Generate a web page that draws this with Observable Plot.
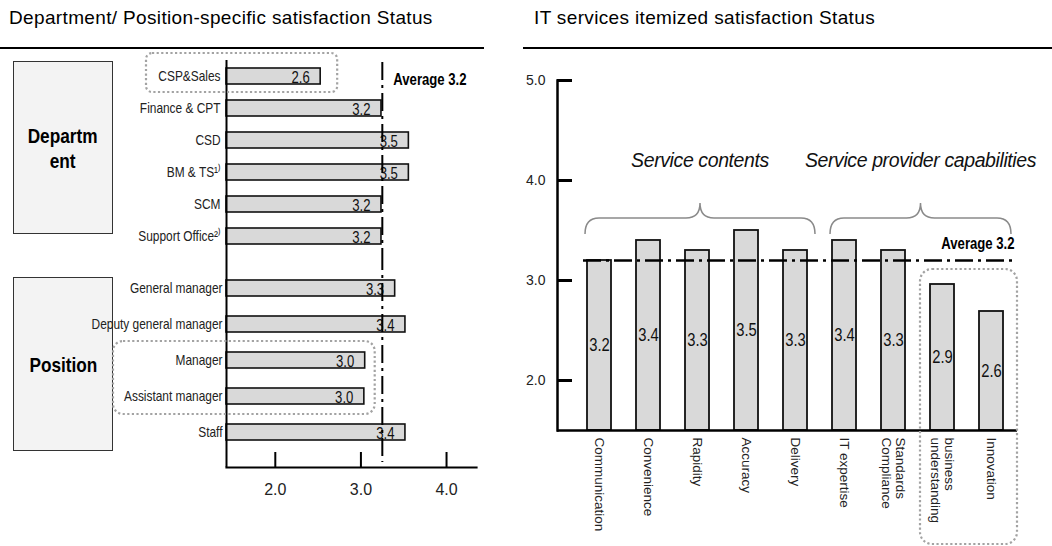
<!DOCTYPE html>
<html><head><meta charset="utf-8">
<script src="https://cdn.jsdelivr.net/npm/d3@7"></script>
<script src="https://cdn.jsdelivr.net/npm/@observablehq/plot@0.6"></script>
<style>
html,body{margin:0;padding:0;background:#fff;}
#root{position:relative;width:1052px;height:546px;overflow:hidden;font-family:"Liberation Sans",Arial,sans-serif;color:#000;}
.abs{position:absolute;}
.title{font-size:19px;letter-spacing:0.35px;white-space:nowrap;line-height:1;}
.rule{height:2px;background:#000;}
.sidebox{border:1px solid #333;background:#f3f3f3;display:flex;align-items:center;justify-content:center;text-align:center;font-weight:bold;font-size:21px;line-height:25px;box-sizing:border-box;}
.sidebox .line{display:block;transform:scaleX(0.82);white-space:nowrap;}
</style></head><body>
<div id="root">
  <div class="abs title" style="left:9px;top:8px">Department/ Position-specific satisfaction Status</div>
  <div class="abs rule" style="left:0;top:47px;width:484px"></div>
  <div class="abs title" style="left:534px;top:8px">IT services itemized satisfaction Status</div>
  <div class="abs rule" style="left:523px;top:47px;width:529px"></div>
  <div class="abs sidebox" id="boxDept" style="left:13px;top:61px;width:100px;height:173px"></div>
  <div class="abs sidebox" id="boxPos" style="left:13px;top:277px;width:100px;height:174px"></div>
  <div id="lt" class="abs" style="left:0;top:52px"></div>
  <div id="lb" class="abs" style="left:0;top:252px"></div>
  <div id="rc" class="abs" style="left:510px;top:60px"></div>
</div>
<script>
// ---------- data ----------
const groupBoxLabels = ["Departm\nent", "Position"];
const deptNames = ["CSP&Sales", "Finance & CPT", "CSD", "BM & TS¹⁾", "SCM", "Support Office²⁾"];
const deptValues = [2.53, 3.24, 3.56, 3.56, 3.24, 3.24];
const deptLabels = ["2.6", "3.2", "3.5", "3.5", "3.2", "3.2"];
const posNames = ["General manager", "Deputy general manager", "Manager", "Assistant manager", "Staff"];
const posValues = [3.40, 3.52, 3.05, 3.04, 3.52];
const posLabels = ["3.3", "3.4", "3.0", "3.0", "3.4"];
const leftAverage = 3.25;
const leftAverageLabel = "Average 3.2";
const leftTicks = [2, 3, 4];
const leftXDomain = [1.43, 4.35];

const itItems = ["Communication", "Convenience", "Rapidity", "Accuracy", "Delivery", "IT expertise", "Standards\nCompliance", "business\nunderstanding", "Innovation"];
const itValues = [3.2, 3.4, 3.3, 3.5, 3.3, 3.4, 3.3, 2.96, 2.69];
const itLabels = ["3.2", "3.4", "3.3", "3.5", "3.3", "3.4", "3.3", "2.9", "2.6"];
const itAverage = 3.2;
const itAverageLabel = "Average 3.2";
const itTicks = [2, 3, 4, 5];
const itYDomain = [1.5, 5.0];
const itGroupLabels = ["Service contents", "Service provider capabilities"];
const itGroupFrom = ["Communication", "IT expertise"];
const itGroupTo = ["Delivery", "Innovation"];
const itHighlighted = ["business\nunderstanding", "Innovation"];
const leftHighlightedDept = ["CSP&Sales"];
const leftHighlightedPos = ["Manager", "Assistant manager"];

// ---------- style ----------
const FONT = '"Liberation Sans", Arial, sans-serif';
const NARROW = 0.82;  // horizontal squeeze emulating a narrow face
const barFill = "#d9d9d9";
const barStroke = "#111";
const dashDot = "18,5,3,5";
const dotStroke = "#a3a3a3";
const dotDash = "2.2,2.4";
const braceTip = 3.46, braceBar = 3.62, bracePeak = 3.77, groupLabelLevel = 4.2;

function boxHTML(s) { return "<div>" + s.split("\n").map(t => `<span class="line">${t}</span>`).join("") + "</div>"; }
document.getElementById("boxDept").innerHTML = boxHTML(groupBoxLabels[0]);
document.getElementById("boxPos").innerHTML = boxHTML(groupBoxLabels[1]);

const deptRows = deptNames.map((name, i) => ({name, value: deptValues[i], label: deptLabels[i]}));
const posRows = posNames.map((name, i) => ({name, value: posValues[i], label: posLabels[i]}));
const itRows = itItems.map((name, i) => ({name, value: itValues[i], label: itLabels[i]}));

const baseStyle = {fontFamily: FONT, fontSize: "12px", color: "#222", overflow: "visible", background: "none"};

function dottedRect(g, x, y, w, h, r) {
  g.append("rect").attr("x", x).attr("y", y).attr("width", w).attr("height", h)
    .attr("rx", r).attr("ry", r).attr("fill", "none").attr("stroke", dotStroke)
    .attr("stroke-width", 2.2).attr("stroke-dasharray", dotDash);
}
function squeeze(svg, selector) {
  svg.querySelectorAll(selector).forEach(t => {
    const w = t.getComputedTextLength();
    if (w > 0) { t.setAttribute("textLength", w * NARROW); t.setAttribute("lengthAdjust", "spacingAndGlyphs"); }
  });
}
const LEFT_NARROW = '[aria-label="text"] text, [aria-label="y-axis tick label"] text';
const RIGHT_NARROW = '[aria-label="text"] text';

// ---------- left top (departments) ----------
const lt = Plot.plot({
  width: 500, height: 200, marginLeft: 226, marginRight: 24, marginTop: 8, marginBottom: 0,
  style: baseStyle,
  x: {domain: leftXDomain, axis: null, label: null},
  y: {domain: deptNames, paddingInner: 0.5, paddingOuter: 0.25, label: null},
  marks: [
    Plot.barX(deptRows, {x1: leftXDomain[0], x2: "value", y: "name", fill: barFill, stroke: barStroke, strokeWidth: 1.6}),
    Plot.text(deptRows, {x: "value", y: "name", text: "label", textAnchor: "end", dx: -11, dy: 1, fontSize: 16, fill: "#111"}),
    Plot.ruleX([leftXDomain[0]], {stroke: "#000", strokeWidth: 2}),
    Plot.ruleX([leftAverage], {stroke: "#000", strokeWidth: 2, strokeDasharray: dashDot, insetTop: 2}),
    Plot.text([leftAverageLabel], {x: () => leftAverage, y: () => deptNames[0], text: d => d, textAnchor: "start", dx: 11, dy: 3, fontWeight: "bold", fontSize: 16, fill: "#000"}),
    Plot.axisY({tickSize: 0, tickPadding: 6, fontSize: 14.5, fill: "#222"}),
    (index, scales, values, dim) => {
      const g = d3.create("svg:g");
      const bw = scales.y.bandwidth ? scales.y.bandwidth() : 16;
      const y0 = scales.y(leftHighlightedDept[0]);
      const i = deptNames.indexOf(leftHighlightedDept[0]);
      const x1 = dim.marginLeft - 80, x2 = scales.x(deptValues[i]) + 17;
      dottedRect(g, x1, y0 - 15, x2 - x1, bw + 23, 6);
      return g.node();
    }
  ]
});
document.getElementById("lt").appendChild(lt);
squeeze(lt, LEFT_NARROW);

// ---------- left bottom (positions) ----------
const lbH = 258, lbMB = 43;
const lb = Plot.plot({
  width: 500, height: lbH, marginLeft: 226, marginRight: 24, marginTop: 0, marginBottom: lbMB,
  style: baseStyle,
  x: {domain: leftXDomain, label: null},
  y: {domain: posNames, paddingInner: 0.56, paddingOuter: 0.745, label: null},
  marks: [
    Plot.barX(posRows, {x1: leftXDomain[0], x2: "value", y: "name", fill: barFill, stroke: barStroke, strokeWidth: 1.6}),
    Plot.text(posRows, {x: "value", y: "name", text: "label", textAnchor: "end", dx: -11, dy: 1, fontSize: 16, fill: "#111"}),
    Plot.ruleX([leftXDomain[0]], {stroke: "#000", strokeWidth: 2}),
    Plot.ruleX([leftAverage], {stroke: "#000", strokeWidth: 2, strokeDasharray: dashDot, insetBottom: 5}),
    Plot.ruleX(leftTicks, {stroke: "#000", strokeWidth: 2, insetTop: lbH - lbMB - 15}),
    Plot.frame({anchor: "bottom", stroke: "#000", strokeWidth: 2.2}),
    Plot.axisX({ticks: leftTicks, tickSize: 0, tickPadding: 16, tickFormat: d => d.toFixed(1), fontSize: 16, fill: "#222"}),
    Plot.axisY({tickSize: 0, tickPadding: 4, fontSize: 14.5, fill: "#222"}),
    (index, scales, values, dim) => {
      const g = d3.create("svg:g");
      const bw = scales.y.bandwidth ? scales.y.bandwidth() : 16;
      const ya = scales.y(leftHighlightedPos[0]);
      const yb = scales.y(leftHighlightedPos[1]) + bw;
      const maxV = d3.max(leftHighlightedPos, n => posValues[posNames.indexOf(n)]);
      const x1 = dim.marginLeft - 113, x2 = scales.x(maxV) + 10;
      dottedRect(g, x1, ya - 11, x2 - x1, yb - ya + 21, 10);
      return g.node();
    }
  ]
});
document.getElementById("lb").appendChild(lb);
squeeze(lb, LEFT_NARROW);

// ---------- right (IT services) ----------
const rW = 542, rH = 486, rML = 47, rMR = 35, rMT = 20, rMB = 116;
const rc = Plot.plot({
  width: rW, height: rH, marginLeft: rML, marginRight: rMR, marginTop: rMT, marginBottom: rMB,
  style: baseStyle,
  x: {domain: itItems, paddingInner: 0.52, paddingOuter: 0.39, align: 0.67, label: null},
  y: {domain: itYDomain, label: null},
  marks: [
    Plot.barY(itRows, {x: "name", y1: itYDomain[0], y2: "value", fill: barFill, stroke: barStroke, strokeWidth: 1.8}),
    Plot.text(itRows, {x: "name", y: d => (d.value + itYDomain[0]) / 2, text: "label", fontSize: 18, fill: "#111"}),
    Plot.ruleY([itAverage], {stroke: "#000", strokeWidth: 2.5, strokeDasharray: dashDot, insetLeft: 26, insetRight: 5}),
    Plot.text([itAverageLabel], {y: () => itAverage, text: d => d, frameAnchor: "right", textAnchor: "end", dx: -3, dy: -17, fontWeight: "bold", fontSize: 16, fill: "#000"}),
    Plot.ruleY(itTicks, {stroke: "#000", strokeWidth: 3, insetRight: rW - rML - rMR - 15}),
    Plot.ruleY([itYDomain[0]], {stroke: "#000", strokeWidth: 2.5}),
    Plot.frame({anchor: "left", stroke: "#000", strokeWidth: 2.5}),
    Plot.axisY({ticks: itTicks, tickSize: 0, tickPadding: 12, tickFormat: d => d.toFixed(1), fontSize: 14, fill: "#222"}),
    Plot.axisX({tickSize: 0, tickRotate: 90, tickPadding: 7, fontSize: 13.5, fill: "#222", style: "letter-spacing:0.6px"}),
    (index, scales, values, dim) => {
      const g = d3.create("svg:g");
      const x = scales.x, y = scales.y;
      const bw = x.bandwidth ? x.bandwidth() : 24;
      itGroupLabels.forEach((lab, i) => {
        const x1 = x(itGroupFrom[i]) - 2, x2 = x(itGroupTo[i]) + bw + 8, xm = (x1 + x2) / 2;
        const yt = y(braceTip), yh = y(braceBar), yp = y(bracePeak), r = 14;
        const d = `M${x1},${yt}Q${x1},${yh} ${x1 + r},${yh}L${xm - r},${yh}Q${xm},${yh} ${xm},${yp}Q${xm},${yh} ${xm + r},${yh}L${x2 - r},${yh}Q${x2},${yh} ${x2},${yt}`;
        g.append("path").attr("d", d).attr("fill", "none").attr("stroke", "#8a8a8a").attr("stroke-width", 1.5);
        g.append("text").attr("x", xm).attr("y", y(groupLabelLevel)).attr("dy", "0.35em")
          .attr("text-anchor", "middle").attr("font-style", "italic").attr("font-size", 19.5)
          .attr("letter-spacing", "-0.4px").attr("fill", "#111").text(lab);
      });
      const maxH = d3.max(itHighlighted, n => itValues[itItems.indexOf(n)]);
      const hx1 = x(itHighlighted[0]) - 10, hx2 = x(itHighlighted[itHighlighted.length - 1]) + bw + 14;
      const hy1 = y(maxH) - 15;
      dottedRect(g, hx1, hy1, hx2 - hx1, dim.height - 2 - hy1, 12);
      return g.node();
    }
  ]
});
document.getElementById("rc").appendChild(rc);
squeeze(rc, RIGHT_NARROW);
</script>
</body></html>
